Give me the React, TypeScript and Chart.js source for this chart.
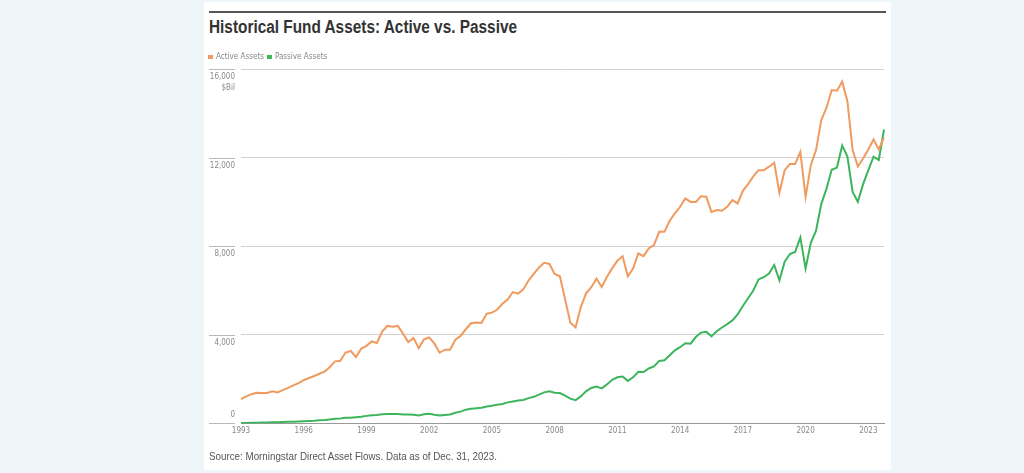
import React, { useEffect, useRef } from "react";
import { Chart, registerables } from "chart.js";

Chart.register(...registerables);

// ---- data ----
const years = [
  1993, 1994, 1995, 1996, 1997, 1998, 1999, 2000, 2001, 2002, 2003, 2004, 2005, 2006, 2007, 2008,
  2009, 2010, 2011, 2012, 2013, 2014, 2015, 2016, 2017, 2018, 2019, 2020, 2021, 2022, 2023,
];
const quarters = ["Q1", "Q2", "Q3", "Q4"];
const categories = years.flatMap((y) => quarters.map((q) => `${y} ${q}`));
const xTickYears = ["1993", "1996", "1999", "2002", "2005", "2008", "2011", "2014", "2017", "2020", "2023"];
const yTickValues = [0, 4000, 8000, 12000, 16000];
const yUnitLabel = "$Bil";

// $Bil, quarterly 1993 Q1 .. 2023 Q4
const activeAssets = [
  1100, 1220, 1320, 1380, 1370, 1370, 1450, 1400, 1500, 1600,
  1720, 1820, 1950, 2050, 2140, 2240, 2340, 2550, 2800, 2830,
  3200, 3270, 3000, 3380, 3500, 3700, 3630, 4150, 4400, 4360,
  4400, 4050, 3670, 3850, 3400, 3800, 3880, 3600, 3190, 3330,
  3330, 3780, 3950, 4250, 4520, 4550, 4530, 4950, 5000, 5130,
  5400, 5590, 5930, 5860, 6050, 6450, 6750, 7040, 7250, 7200,
  6750, 6640, 5600, 4550, 4330, 5250, 5860, 6150, 6540, 6160,
  6620, 7000, 7350, 7550, 6640, 6990, 7670, 7550, 7900, 8050,
  8650, 8650, 9150, 9480, 9780, 10160, 10000, 10000, 10250, 10230,
  9550, 9630, 9600, 9780, 10080, 9930, 10500, 10800, 11150, 11430,
  11430, 11590, 11770, 10410, 11430, 11710, 11710, 12260, 10230, 11660,
  12340, 13690, 14250, 15050, 15020, 15430, 14550, 12340, 11600, 11960,
  12370, 12820, 12370, 12910,
];
const passiveAssets = [
  20, 20, 30, 30, 40, 40, 50, 50, 60, 70,
  80, 90, 100, 110, 120, 140, 150, 180, 210, 220,
  250, 260, 280, 300, 340, 370, 380, 410, 420, 420,
  420, 400, 400, 390, 360, 410, 430, 390, 360, 380,
  400, 480, 530, 620, 660, 680, 710, 760, 800, 840,
  880, 950, 990, 1030, 1060, 1140, 1200, 1300, 1400, 1450,
  1380, 1370, 1250, 1120, 1050, 1220, 1450, 1600, 1660, 1580,
  1760, 1970, 2080, 2120, 1920, 2080, 2330, 2320, 2480, 2570,
  2820, 2850, 3080, 3300, 3440, 3620, 3600, 3900, 4100, 4140,
  3930, 4160, 4330, 4480, 4650, 4920, 5300, 5650, 6000, 6500,
  6600, 6770, 7150, 6460, 7300, 7650, 7740, 8400, 6990, 8150,
  8700, 9900, 10600, 11450, 11550, 12550, 12050, 10450, 10000, 10800,
  11430, 12040, 11890, 13270,
];

const NARROW = "'Liberation Sans Narrow', 'Arial Narrow', 'DejaVu Sans Condensed', sans-serif";
const SANS = "'Liberation Sans', Arial, sans-serif";

const yLabelPlugin = {
  id: "yLabelsBelowGrid",
  afterLayout(chart: any) {
    // nudge the legend row down a little, closer to the plot
    const lg = chart.legend;
    if (lg) {
      lg.top += 2;
      lg.bottom += 2;
    }
  },
  afterDraw(chart: any) {
    const s = chart.scales.y;
    const ctx = chart.ctx;
    ctx.save();
    ctx.font = `8px ${NARROW}`;
    ctx.fillStyle = "#8a8a8a";
    ctx.textAlign = "right";
    ctx.textBaseline = "middle";
    const xr = chart.chartArea.left - 6;
    const top = yTickValues[yTickValues.length - 1];
    yTickValues.forEach((v) => {
      const py = s.getPixelForValue(v);
      ctx.strokeStyle = "#b8b8b8";
      ctx.lineWidth = 1;
      ctx.beginPath();
      ctx.moveTo(xr - 26, Math.round(py) + 0.5);
      ctx.lineTo(xr, Math.round(py) + 0.5);
      ctx.stroke();
      const label = v.toLocaleString("en-US");
      ctx.fillText(label, xr, v === 0 ? py - 8 : py + 8);
      if (v === top) ctx.fillText(yUnitLabel, xr, py + 19);
    });
    ctx.restore();
  },
};

export default function App() {
  const ref = useRef<HTMLCanvasElement | null>(null);
  const titleRef = useRef<HTMLSpanElement | null>(null);
  const sourceRef = useRef<HTMLSpanElement | null>(null);

  useEffect(() => {
    document.body.style.margin = "0";
    document.body.style.background = "#eef5f8";
    const fit = (el: HTMLSpanElement | null, w: number) => {
      if (!el) return;
      el.style.transform = "none";
      const cur = el.getBoundingClientRect().width;
      if (cur > 0) el.style.transform = `scaleX(${w / cur})`;
    };
    fit(titleRef.current, 308);
    fit(sourceRef.current, 288);

    const canvas = ref.current;
    if (!canvas) return;
    const chart = new Chart(canvas, {
      type: "line",
      data: {
        labels: categories,
        datasets: [
          {
            label: "Active Assets",
            data: activeAssets,
            borderColor: "#f09a5e",
            backgroundColor: "#f09a5e",
            borderWidth: 2,
            pointRadius: 0,
            tension: 0,
          },
          {
            label: "Passive Assets",
            data: passiveAssets,
            borderColor: "#3cb55c",
            backgroundColor: "#3cb55c",
            borderWidth: 2,
            pointRadius: 0,
            tension: 0,
          },
        ],
      },
      options: {
        responsive: false,
        animation: false,
        layout: { padding: { left: 205, right: 140, top: 47, bottom: 34 } },
        plugins: {
          legend: {
            position: "top",
            align: "start",
            labels: {
              boxWidth: 3,
              boxHeight: 2,
              padding: 4,
              color: "#888888",
              font: { size: 8, family: NARROW },
            },
          },
          tooltip: { enabled: false },
          title: { display: false },
        },
        scales: {
          x: {
            type: "category",
            offset: false,
            grid: { display: false, drawTicks: false },
            border: { display: true, color: "#9a9a9a", width: 1 },
            ticks: {
              autoSkip: false,
              maxRotation: 0,
              minRotation: 0,
              padding: 3,
              color: "#888888",
              font: { size: 8, family: NARROW },
              callback: (_v: any, i: number) => {
                const c = categories[i];
                const [yr, q] = c.split(" ");
                return q === "Q1" && xTickYears.includes(yr) ? yr : "";
              },
            },
          },
          y: {
            min: 0,
            max: 16000,
            afterBuildTicks: (scale: any) => {
              scale.ticks = yTickValues.map((v) => ({ value: v }));
            },
            ticks: { display: false },
            grid: {
              color: "#d2d2d2",
              lineWidth: 1,
              drawTicks: true,
              tickLength: 36,
              tickColor: "rgba(0,0,0,0)",
            },
            border: { display: false },
          },
        },
      },
      plugins: [yLabelPlugin],
    });
    return () => chart.destroy();
  }, []);

  return (
    <div style={{ position: "fixed", left: 0, top: 0, width: 1024, height: 473, background: "#eef5f8", overflow: "hidden" }}>
      <div style={{ position: "absolute", left: 204, top: 2, width: 687, height: 468, background: "#ffffff" }} />
      <div style={{ position: "absolute", left: 209, top: 11, width: 677, height: 2, background: "#555555" }} />
      <span
        ref={titleRef}
        style={{
          position: "absolute",
          left: 209,
          top: 18,
          display: "inline-block",
          transformOrigin: "0 0",
          fontFamily: SANS,
          fontWeight: 700,
          fontSize: 18,
          lineHeight: "18px",
          color: "#333333",
          whiteSpace: "nowrap",
        }}
      >
        Historical Fund Assets: Active vs. Passive
      </span>
      <canvas ref={ref} width={1024} height={473} style={{ position: "absolute", left: 0, top: 0 }} />
      <span
        ref={sourceRef}
        style={{
          position: "absolute",
          left: 209,
          top: 451,
          display: "inline-block",
          transformOrigin: "0 0",
          fontFamily: SANS,
          fontSize: 10.5,
          lineHeight: "10.5px",
          color: "#555555",
          whiteSpace: "nowrap",
        }}
      >
        Source: Morningstar Direct Asset Flows. Data as of Dec. 31, 2023.
      </span>
    </div>
  );
}
